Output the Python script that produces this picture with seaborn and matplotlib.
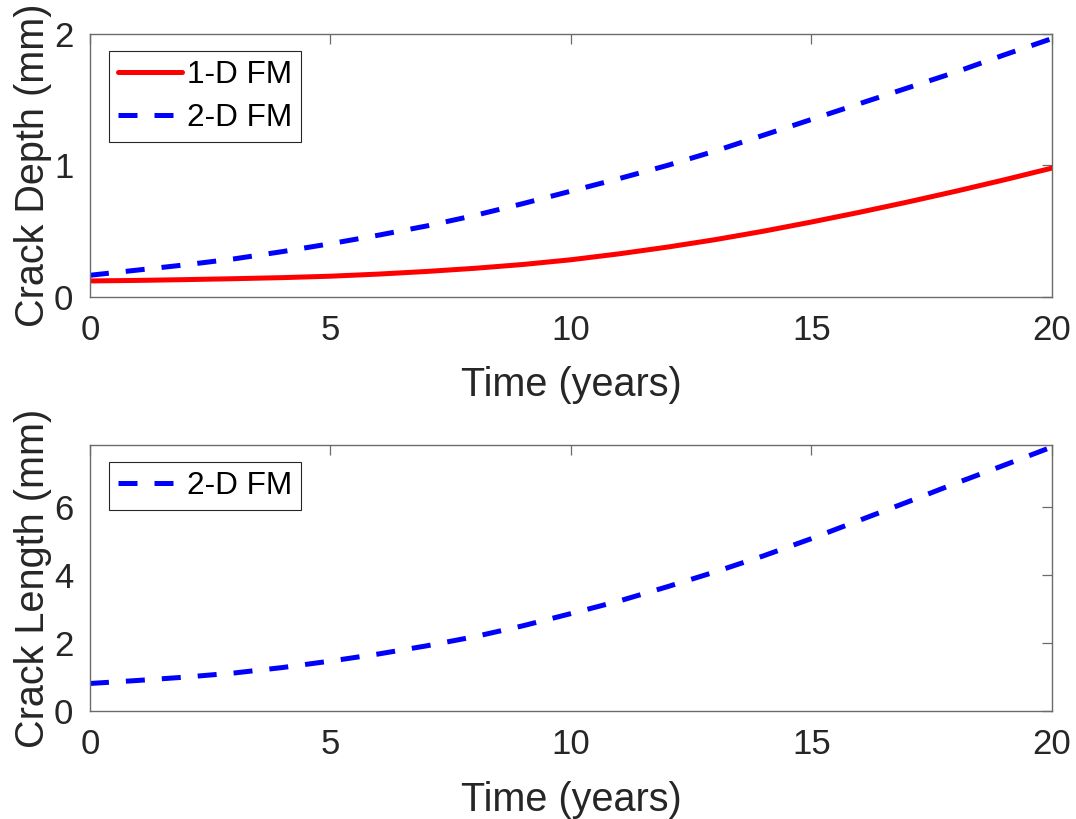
import numpy as np
import pandas as pd
import matplotlib
matplotlib.use("Agg")
import matplotlib.pyplot as plt
import seaborn as sns

# ── Data ──────────────────────────────────────────────────────
years = list(range(0, 21))
depth_1d = [0.122, 0.126, 0.132, 0.139, 0.147, 0.158, 0.174, 0.194, 0.218, 0.247, 0.283,
            0.328, 0.379, 0.436, 0.50, 0.57, 0.644, 0.722, 0.804, 0.89, 0.98]
depth_2d = [0.165, 0.205, 0.245, 0.29, 0.345, 0.405, 0.47, 0.54, 0.62, 0.71, 0.805,
            0.90, 1.00, 1.11, 1.23, 1.35, 1.47, 1.59, 1.71, 1.84, 1.965]
length_2d = [0.81, 0.90, 1.00, 1.12, 1.28, 1.47, 1.68, 1.92, 2.19, 2.51, 2.87,
             3.24, 3.66, 4.10, 4.57, 5.08, 5.62, 6.16, 6.71, 7.24, 7.78]

x_ticks = [0, 5, 10, 15, 20]
depth_ticks = [0, 1, 2]
length_ticks = [0, 2, 4, 6]

depth_df = pd.DataFrame({
    "Time": years + years,
    "Depth": depth_1d + depth_2d,
    "Model": ["1-D FM"] * len(years) + ["2-D FM"] * len(years),
})
length_df = pd.DataFrame({"Time": years, "Length": length_2d,
                          "Model": ["2-D FM"] * len(years)})

# ── Style ─────────────────────────────────────────────────────
sns.set_style("white")
plt.rcParams["font.family"] = ["Liberation Sans", "DejaVu Sans"]

TXT = "#262626"
SPINE = "#6b6b6b"
palette = {"1-D FM": "#ff0000", "2-D FM": "#0000ff"}
dashes = {"1-D FM": "", "2-D FM": (3.8, 3.4)}

fig = plt.figure(figsize=(10.76, 8.19), dpi=100)
ax1 = fig.add_axes([0.0836, 0.6374, 0.894, 0.3211])
ax2 = fig.add_axes([0.0836, 0.1319, 0.894, 0.3248])

sns.lineplot(data=depth_df, x="Time", y="Depth", hue="Model", style="Model",
             palette=palette, dashes=dashes, linewidth=3.6, ax=ax1)
sns.lineplot(data=length_df, x="Time", y="Length", hue="Model", style="Model",
             palette=palette, dashes=dashes, linewidth=3.6, ax=ax2)


def style_axes(ax, yticks, ylim, ylabel):
    ax.set_xlim(0, 20)
    ax.set_ylim(*ylim)
    ax.set_xticks(x_ticks)
    ax.set_yticks(yticks)
    ax.tick_params(direction="in", length=7, width=0.9, top=True, right=True,
                   color=SPINE, labelcolor=TXT, labelsize=25, pad=12)
    for s in ax.spines.values():
        s.set_color(SPINE)
        s.set_linewidth(1.0)
    ax.set_xlabel("Time (years)", fontsize=28.5, color=TXT)
    ax.set_ylabel(ylabel, fontsize=28.5, color=TXT)
    ax.xaxis.set_label_coords(0.5, -0.262)
    ax.yaxis.set_label_coords(-0.0395, 0.5)
    leg = ax.legend(loc="upper left", bbox_to_anchor=(0.0198, 0.935),
                    borderaxespad=0, fontsize=22.7, frameon=True, fancybox=False,
                    framealpha=1, edgecolor=TXT, handlelength=2.05,
                    handletextpad=0.15, borderpad=0.28, labelspacing=0.42)
    leg.get_frame().set_linewidth(0.8)
    for t in leg.get_texts():
        t.set_color("black")


style_axes(ax1, depth_ticks, (0, 2), "Crack Depth (mm)")
style_axes(ax2, length_ticks, (0, 7.84), "Crack Length (mm)")

fig.savefig("out.png", dpi=100)
plt.close(fig)
